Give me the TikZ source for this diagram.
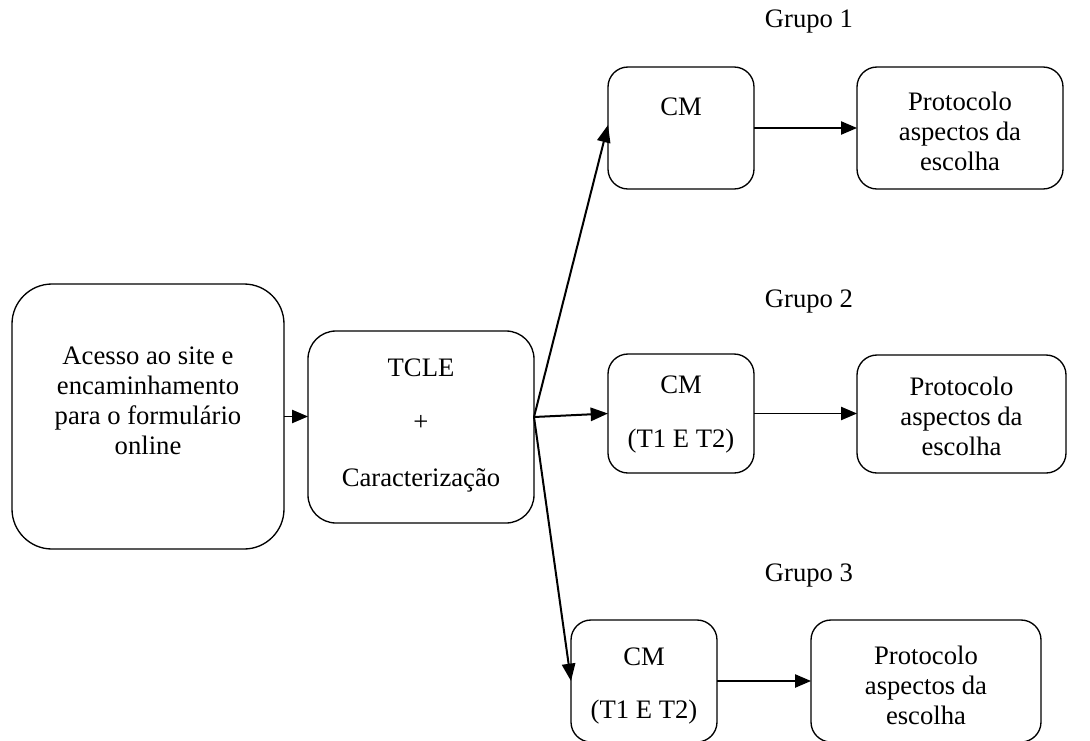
\documentclass[tikz,border=0pt]{standalone}
\usepackage{fontspec}
\setmainfont{Liberation Serif}
\usetikzlibrary{arrows.meta,calc}
\begin{document}
\begin{tikzpicture}[x=0.75pt,y=-0.75pt,
  box/.style={draw,line width=1pt,inner sep=0pt,outer sep=0pt},
  txt/.style={align=center,inner sep=0pt,font=\fontsize{20pt}{22.5pt}\selectfont},
  thin arrow/.style={line width=1pt,-{Triangle[length=12pt,width=10pt]}},
  thick arrow/.style={line width=1.5pt,-{Triangle[length=13pt,width=10pt]}}]
\useasboundingbox (0,0) rectangle (1090,740);
% boxes
\node[box,rounded corners=30pt,minimum width=204pt,minimum height=198.75pt] (A) at (148,416.5) {};
\node[box,rounded corners=21pt,minimum width=169.5pt,minimum height=144pt] (B) at (421,427) {};
\node[box,rounded corners=15pt,minimum width=109.5pt,minimum height=91.5pt] (C1) at (681,128) {};
\node[box,rounded corners=15pt,minimum width=154.5pt,minimum height=91.5pt] (P1) at (960,128) {};
\node[box,rounded corners=15pt,minimum width=109.5pt,minimum height=89.25pt] (C2) at (681,413.5) {};
\node[box,rounded corners=15pt,minimum width=156.75pt,minimum height=88.5pt] (P2) at (961.5,414) {};
\node[box,rounded corners=15pt,minimum width=109.5pt,minimum height=91.5pt] (C3) at (644,681) {};
\node[box,rounded corners=15pt,minimum width=172.5pt,minimum height=91.5pt] (P3) at (926,681) {};
% texts
\node[txt] (tA) at (148,401) {Acesso ao site e\\encaminhamento\\para o formulário\\online};
\node[txt] (tB1) at (421,368) {TCLE};
\node[txt] (tB2) at (421,423) {+};
\node[txt] (tB3) at (421,480) {Caracterização};
\node[txt] (g1) at (809,22) {Grupo 1};
\node[txt] (g2) at (809,302) {Grupo 2};
\node[txt] (g3) at (809,576) {Grupo 3};
\node[txt] (tC1) at (681,107) {CM};
\node[txt] (tC2a) at (681,385) {CM};
\node[txt] (tC2b) at (681,441) {(T1 E T2)};
\node[txt] (tC3a) at (644,657) {CM};
\node[txt] (tC3b) at (644,712) {(T1 E T2)};
\node[txt] (tP1) at (960,131) {Protocolo\\aspectos da\\escolha};
\node[txt] (tP2) at (961.5,416) {Protocolo\\aspectos da\\escolha};
\node[txt] (tP3) at (926,685) {Protocolo\\aspectos da\\escolha};
% connectors
\coordinate (Bout) at ($(B.east)+(0,-10)$);
\draw[thin arrow] (A.east) -- (A.east -| B.west);
\draw[thick arrow] (Bout) -- ($(C1.west)+(0,-3)$);
\draw[thick arrow] (Bout) -- (C2.west);
\draw[thick arrow] (Bout) -- (C3.west);
\draw[thin arrow] (C1.east) -- (P1.west);
\draw[thin arrow] (C2.east) -- (C2.east -| P2.west);
\draw[thin arrow] (C3.east) -- (C3.east -| P3.west);
\end{tikzpicture}
\end{document}
